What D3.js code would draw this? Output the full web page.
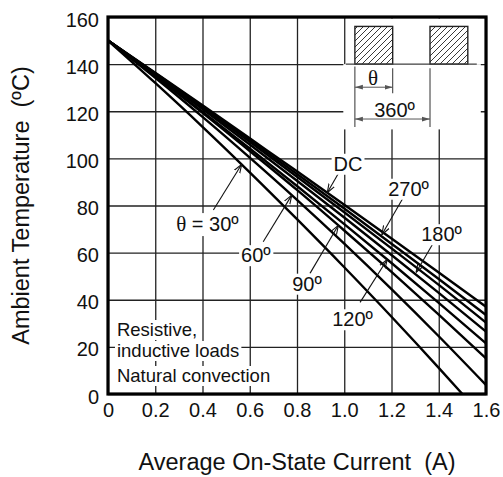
<!DOCTYPE html>
<html><head><meta charset="utf-8">
<script src="https://cdn.jsdelivr.net/npm/d3@7"></script>
<style>
html,body{margin:0;padding:0;background:#fff;}
svg{display:block;font-family:"Liberation Sans",Arial,Helvetica,sans-serif;}
.pre{white-space:pre;}
</style>
</head><body>
<svg id="chart" width="503" height="477"></svg>
<script>
// ---------------- data ----------------
const currents   = [0, 0.2, 0.4, 0.6, 0.8, 1.0, 1.2, 1.4, 1.6];
const currents30 = [0, 0.2, 0.4, 0.6, 0.8, 1.0, 1.2, 1.4, 1.5];
const tempDC   = [150, 136.3, 122.5, 108.5, 94.5, 80.3, 66.0, 51.6, 37.0];
const temp270  = [150, 136.1, 122.1, 107.8, 93.4, 78.7, 63.8, 48.8, 33.5];
const tempMid  = [150, 135.9, 121.6, 107.0, 92.2, 77.1, 61.8, 46.3, 30.3];
const temp180  = [150, 135.6, 120.9, 105.9, 90.5, 74.9, 59.0, 42.9, 26.5];
const temp120  = [150, 135.1, 119.8, 104.2, 88.3, 72.1, 55.6, 38.7, 21.5];
const temp90   = [150, 134.9, 119.3, 103.1, 86.6, 69.4, 51.8, 33.7, 15.1];
const temp60   = [150, 134.2, 117.6, 100.3, 82.4, 63.8, 44.5, 24.5, 3.8];
const temp30   = [150, 132.0, 113.4, 94.1, 74.2, 53.8, 32.8, 11.1, 0];

const xTickValues = [0, 0.2, 0.4, 0.6, 0.8, 1.0, 1.2, 1.4, 1.6];
const xTickLabels = ["0", "0.2", "0.4", "0.6", "0.8", "1.0", "1.2", "1.4", "1.6"];
const yTickValues = [0, 20, 40, 60, 80, 100, 120, 140, 160];
const yTickLabels = ["0", "20", "40", "60", "80", "100", "120", "140", "160"];

const xTitle = "Average On-State Current  (A)";
const yTitle = "Ambient Temperature  (ºC)";
const noteLines = ["Resistive,", "inductive loads", "Natural convection"];

// curve labels: text, label centre (I,T), leader start (I,T), leader tip (I,T)
const curveLabels = [
  {pre:"", theta:false, txt:"DC",   lx:1.016, ly:97.8, sx:0.975, sy:93.6, tx:0.928, ty:85.4},
  {pre:"", theta:false, txt:"270º", lx:1.272, ly:87.2, sx:1.250, sy:83.4, tx:1.159, ty:67.6},
  {pre:"", theta:false, txt:"180º", lx:1.412, ly:67.9, sx:1.372, sy:63.2, tx:1.304, ty:51.6},
  {pre:"", theta:false, txt:"120º", lx:1.035, ly:31.8, sx:1.067, sy:38.9, tx:1.182, ty:57.1},
  {pre:"", theta:false, txt:"90º",  lx:0.842, ly:46.9, sx:0.855, sy:51.2, tx:0.975, ty:71.6},
  {pre:"", theta:false, txt:"60º",  lx:0.626, ly:59.0, sx:0.657, sy:64.6, tx:0.778, ty:84.4},
  {pre:"θ", theta:true, txt:" = 30º", lx:0.421, ly:72.2, sx:0.446, sy:78.1, tx:0.566, ty:97.5}
];

// ---------------- drawing ----------------
const svg = d3.select("#chart");
const x = d3.scaleLinear().domain([0, 1.6]).range([108, 486]);
const y = d3.scaleLinear().domain([0, 160]).range([394, 17]);
const plotH = y(0) - y(160), plotW = x(1.6) - x(0);

const defs = svg.append("defs");
defs.append("pattern").attr("id","hatch").attr("patternUnits","userSpaceOnUse")
  .attr("width",6).attr("height",6)
  .append("path").attr("d","M0,6 L6,0 M-1.5,1.5 L1.5,-1.5 M4.5,7.5 L7.5,4.5")
  .attr("stroke","#222").attr("stroke-width",0.9);
defs.append("marker").attr("id","lead").attr("viewBox","0 0 10 10").attr("refX",10).attr("refY",5)
  .attr("markerWidth",9).attr("markerHeight",9).attr("markerUnits","userSpaceOnUse").attr("orient","auto")
  .append("path").attr("d","M0,1.5 L10,5 L0,8.5").attr("fill","none").attr("stroke","#111").attr("stroke-width",1.2);
defs.append("marker").attr("id","dim").attr("viewBox","0 0 10 10").attr("refX",10).attr("refY",5)
  .attr("markerWidth",8).attr("markerHeight",8).attr("markerUnits","userSpaceOnUse").attr("orient","auto-start-reverse")
  .append("path").attr("d","M0,2 L10,5 L0,8 Z").attr("fill","#555");

// grid + tick labels via axes
const gx = svg.append("g").attr("transform",`translate(0,${y(0)})`)
  .call(d3.axisBottom(x).tickValues(xTickValues).tickFormat((d,i)=>xTickLabels[i])
        .tickSizeInner(-plotH).tickSizeOuter(0).tickPadding(9));
const gy = svg.append("g").attr("transform",`translate(${x(0)},0)`)
  .call(d3.axisLeft(y).tickValues(yTickValues).tickFormat((d,i)=>yTickLabels[i])
        .tickSizeInner(-plotW).tickSizeOuter(0).tickPadding(9));
[gx, gy].forEach(g=>{
  g.select(".domain").remove();
  g.selectAll(".tick line").attr("stroke","#222").attr("stroke-width",1.3);
  g.selectAll(".tick text").attr("font-size",20).attr("fill","#111")
   .attr("font-family","'Liberation Sans',Arial,sans-serif");
});
gy.selectAll(".tick text").attr("dy","0.45em");

// inset background (white) covering grid
svg.append("rect").attr("x",x(1.007)).attr("y",y(159.3)).attr("width",x(1.566)-x(1.007)).attr("height",y(140)-y(159.3)).attr("fill","#fff");
svg.append("rect").attr("x",x(0.996)).attr("y",y(140)).attr("width",x(1.578)-x(0.996)).attr("height",y(112.3)-y(140)).attr("fill","#fff");

// curves
const series = [
  {xs:currents, ys:tempDC}, {xs:currents, ys:temp270}, {xs:currents, ys:tempMid},
  {xs:currents, ys:temp180}, {xs:currents, ys:temp120}, {xs:currents, ys:temp90},
  {xs:currents, ys:temp60}, {xs:currents30, ys:temp30}
];
const line = d3.line().x(d=>x(d[0])).y(d=>y(d[1])).curve(d3.curveMonotoneX);
svg.append("g").selectAll("path").data(series).join("path")
  .attr("d", s => line(s.xs.map((v,i)=>[v, s.ys[i]])))
  .attr("fill","none").attr("stroke","#000").attr("stroke-width",2.4).attr("stroke-linejoin","round");

// leaders
svg.append("g").selectAll("line").data(curveLabels).join("line")
  .attr("x1",d=>x(d.sx)).attr("y1",d=>y(d.sy)).attr("x2",d=>x(d.tx)).attr("y2",d=>y(d.ty))
  .attr("stroke","#111").attr("stroke-width",1.1).attr("marker-end","url(#lead)");

// labels with white background
function boxedText(g, tx, ty, anchor, size, build){
  const grp = g.append("g");
  const bg = grp.append("rect").attr("fill","#fff");
  const t = grp.append("text").attr("x",tx).attr("y",ty).attr("text-anchor",anchor)
    .attr("font-size",size).attr("fill","#111").attr("class","pre");
  build(t);
  const b = t.node().getBBox();
  bg.attr("x",b.x-2).attr("y",b.y+1).attr("width",b.width+4).attr("height",b.height-1);
  return grp;
}
const lg = svg.append("g");
curveLabels.forEach(d=>{
  boxedText(lg, x(d.lx), y(d.ly), "middle", 20, t=>{
    t.attr("dy","0.36em");
    if (d.theta) t.append("tspan").attr("font-family","'Liberation Serif','Times New Roman',serif").attr("font-size",21).text(d.pre);
    t.append("tspan").text(d.txt);
  });
});

// note box
const noteBase = [336, 357, 382];
noteLines.forEach((s,i)=>{
  boxedText(lg, x(0.038), noteBase[i], "start", 18.5, t=>t.text(s));
});

// inset: waveform
const inset = svg.append("g");
[[1.045,1.205],[1.363,1.523]].forEach(r=>{
  inset.append("rect").attr("x",x(r[0])).attr("y",y(156)).attr("width",x(r[1])-x(r[0])).attr("height",y(140)-y(156))
    .attr("fill","url(#hatch)").attr("stroke","#222").attr("stroke-width",1.4);
});
inset.append("line").attr("x1",x(1.007)).attr("x2",x(1.561)).attr("y1",y(140)).attr("y2",y(140))
  .attr("stroke","#444").attr("stroke-width",1.4);
const dimV = [[1.045,139,113.3],[1.205,138.3,127.6],[1.363,138.3,113.3]];
dimV.forEach(v=>{
  inset.append("line").attr("x1",x(v[0])).attr("x2",x(v[0])).attr("y1",y(v[1])).attr("y2",y(v[2]))
    .attr("stroke","#444").attr("stroke-width",1.1);
});
inset.append("line").attr("x1",x(1.045)).attr("x2",x(1.205)).attr("y1",y(130.2)).attr("y2",y(130.2))
  .attr("stroke","#555").attr("stroke-width",1).attr("marker-start","url(#dim)").attr("marker-end","url(#dim)");
inset.append("line").attr("x1",x(1.045)).attr("x2",x(1.363)).attr("y1",y(116.7)).attr("y2",y(116.7))
  .attr("stroke","#555").attr("stroke-width",1).attr("marker-start","url(#dim)").attr("marker-end","url(#dim)");
inset.append("text").attr("x",x(1.122)).attr("y",y(134.2)).attr("dy","0.36em").attr("text-anchor","middle")
  .attr("font-family","'Liberation Serif','Times New Roman',serif").attr("font-size",21).attr("fill","#111").text("θ");
inset.append("text").attr("x",x(1.213)).attr("y",y(120.8)).attr("dy","0.36em").attr("text-anchor","middle")
  .attr("font-size",20).attr("fill","#111").text("360º");

// frame
svg.append("rect").attr("x",x(0)).attr("y",y(160)).attr("width",plotW).attr("height",plotH)
  .attr("fill","none").attr("stroke","#000").attr("stroke-width",3.2);

// titles
svg.append("text").attr("class","pre").attr("x",(x(0)+x(1.6))/2).attr("y",470).attr("text-anchor","middle")
  .attr("font-size",23.5).attr("fill","#111").text(xTitle);
svg.append("text").attr("class","pre").attr("transform",`translate(29,${(y(0)+y(160))/2}) rotate(-90)`).attr("text-anchor","middle")
  .attr("font-size",23.5).attr("fill","#111").text(yTitle);
</script>
</body></html>
